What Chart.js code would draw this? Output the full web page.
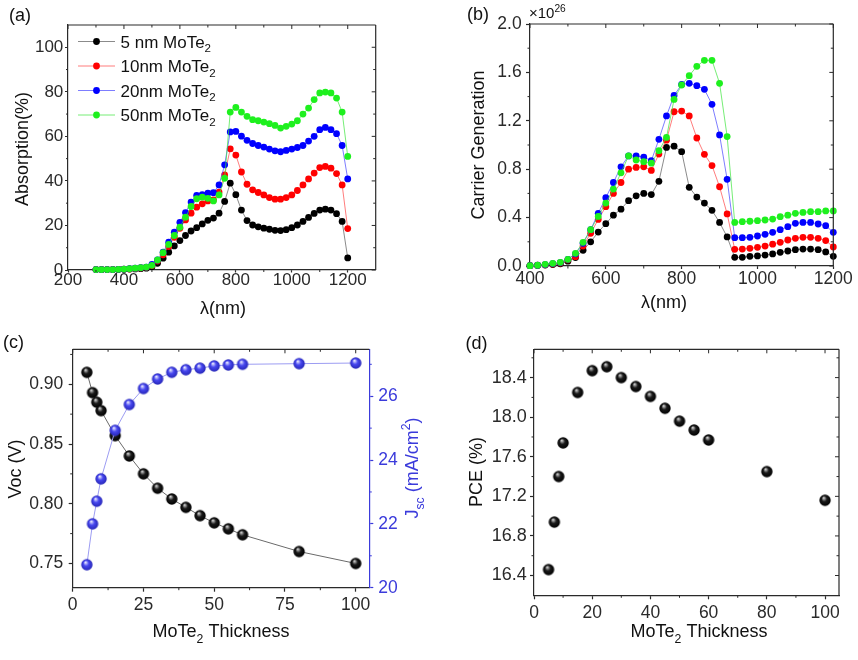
<!DOCTYPE html>
<html><head><meta charset="utf-8">
<script src="https://cdn.jsdelivr.net/npm/chart.js@4.4.0/dist/chart.umd.min.js"></script>
<style>
html,body{margin:0;padding:0;background:#fff;}
body{width:858px;height:660px;position:relative;overflow:hidden;}
.box{position:absolute;}
.box canvas{display:block;}
</style></head><body>
<div class="box" style="left:0;top:0;width:429px;height:320px"><canvas id="ca"></canvas></div>
<div class="box" style="left:429px;top:0;width:429px;height:320px"><canvas id="cb"></canvas></div>
<div class="box" style="left:0;top:320px;width:429px;height:340px"><canvas id="cc"></canvas></div>
<div class="box" style="left:429px;top:320px;width:429px;height:340px"><canvas id="cd"></canvas></div>
<script>
// ---------------- DATA ----------------
const wavelengthA = [300,320,340,360,380,400,420,440,460,480,500,520,540,560,580,600,620,640,660,680,700,720,740,760,780,800,820,840,860,880,900,920,940,960,980,1000,1020,1040,1060,1080,1100,1120,1140,1160,1180,1200];
const absorption5nm  = [0.2,0.2,0.2,0.2,0.2,0.3,0.4,0.5,0.6,0.8,1.5,3.0,5.3,8.0,10.8,13.2,15.5,17.5,19.0,20.7,22.3,23.3,25.5,30.8,39.0,33.8,26.9,22.2,20.2,19.4,18.8,18.3,17.8,17.7,18.1,19.0,20.2,21.8,23.6,25.4,26.9,27.3,26.9,25.3,21.8,5.4];
const absorption10nm = [0.2,0.2,0.2,0.2,0.3,0.4,0.5,0.7,0.9,1.2,2.0,4.0,6.8,10.5,14.7,18.7,22.5,25.5,28.2,29.7,31.0,31.5,35.0,42.7,54.4,51.6,44.0,38.5,36.0,34.8,33.7,32.5,31.8,31.8,32.5,33.7,35.7,38.2,40.9,43.5,46.0,46.5,45.7,43.3,38.2,18.6];
const absorption20nm = [0.2,0.2,0.2,0.2,0.3,0.4,0.6,0.8,1.0,1.3,2.5,4.5,8.0,12.5,17.0,21.4,25.8,30.5,33.5,33.8,34.5,34.7,38.2,47.2,62.0,62.2,60.1,58.2,56.8,55.9,55.2,54.3,53.5,53.1,53.7,54.3,55.0,55.9,57.9,60.0,63.0,64.0,63.0,61.2,55.9,40.9];
const absorption50nm = [0.2,0.2,0.2,0.2,0.3,0.4,0.6,0.8,1.0,1.3,2.1,4.5,7.8,11.5,15.5,19.2,23.7,28.5,32.0,32.7,32.2,31.0,33.7,41.2,70.9,73.0,70.9,69.0,67.5,67.0,66.4,65.7,64.9,63.7,64.5,65.5,67.0,70.0,72.7,76.5,79.5,79.9,79.5,77.2,70.9,51.0];

const wavelengthB = [400,420,440,460,480,500,520,540,560,580,600,620,640,660,680,700,720,740,760,780,800,820,840,860,880,900,920,940,960,980,1000,1020,1040,1060,1080,1100,1120,1140,1160,1180,1200];
// carrier generation in units of 1e26
const generation5nm  = [0.003,0.005,0.008,0.012,0.018,0.04,0.07,0.13,0.2,0.28,0.35,0.42,0.47,0.54,0.58,0.6,0.59,0.7,0.98,0.99,0.945,0.65,0.57,0.52,0.46,0.36,0.24,0.072,0.072,0.08,0.083,0.09,0.1,0.113,0.124,0.135,0.14,0.14,0.135,0.116,0.08];
const generation10nm = [0.003,0.006,0.01,0.016,0.025,0.05,0.077,0.165,0.27,0.385,0.49,0.6,0.69,0.8,0.815,0.82,0.79,0.925,1.04,1.275,1.28,1.24,1.058,0.923,0.83,0.655,0.43,0.138,0.14,0.146,0.154,0.165,0.18,0.196,0.215,0.229,0.237,0.237,0.229,0.21,0.157];
const generation20nm = [0.003,0.006,0.012,0.02,0.028,0.055,0.1,0.187,0.3,0.435,0.565,0.69,0.82,0.91,0.91,0.9,0.87,1.047,1.24,1.41,1.5,1.51,1.49,1.46,1.336,1.083,0.716,0.234,0.234,0.237,0.248,0.262,0.278,0.3,0.325,0.353,0.36,0.36,0.347,0.333,0.278];
const generation50nm = [0.003,0.006,0.014,0.022,0.03,0.055,0.105,0.196,0.3,0.41,0.52,0.636,0.77,0.91,0.876,0.862,0.85,0.953,1.063,1.377,1.496,1.573,1.65,1.7,1.7,1.51,1.07,0.36,0.366,0.37,0.375,0.38,0.388,0.408,0.42,0.435,0.443,0.449,0.449,0.455,0.455];

const thickness = [5,7,8.5,10,15,20,25,30,35,40,45,50,55,60,80,100];
const vocV      = [0.910,0.893,0.885,0.878,0.857,0.840,0.825,0.813,0.804,0.797,0.790,0.784,0.779,0.774,0.760,0.750];
const jscmA     = [20.72,22.0,22.71,23.41,24.93,25.74,26.24,26.54,26.75,26.83,26.88,26.95,26.98,27.0,27.02,27.04];
const pcePct    = [16.46,16.94,17.40,17.74,18.25,18.47,18.51,18.40,18.31,18.21,18.09,17.96,17.87,17.77,17.45,17.16];

const seriesNames = ['5 nm MoTe','10nm MoTe','20nm MoTe','50nm MoTe'];

// tick values
const ticksAx = [200,400,600,800,1000,1200], minorAx = [300,500,700,900,1100];
const ticksAy = [0,20,40,60,80,100], minorAy = [10,30,50,70,90];
const ticksBx = [400,600,800,1000,1200], minorBx = [500,700,900,1100];
const ticksBy = [0,0.4,0.8,1.2,1.6,2.0], minorBy = [0.2,0.6,1.0,1.4,1.8];
const ticksCx = [0,25,50,75,100], minorCx = [12.5,37.5,62.5,87.5];
const ticksCy = [0.75,0.80,0.85,0.90], minorCy = [0.775,0.825,0.875,0.925];
const ticksCy2 = [20,22,24,26], minorCy2 = [21,23,25,27];
const ticksDx = [0,20,40,60,80,100], minorDx = [10,30,50,70,90];
const ticksDy = [16.4,16.8,17.2,17.6,18.0,18.4], minorDy = [16.6,17.0,17.4,17.8,18.2,18.6];

// ---------------- HELPERS ----------------
const FONT = '"Liberation Sans", Arial, sans-serif';
const AX = '#2a2a2a';
const BLUEAX = '#3b3bdb';

function pts(xs, ys){ return xs.map((x,i)=>({x:x, y:ys[i]})); }

function richText(ctx, parts, x, y, o){
  o = o || {};
  const size = o.size || 18, color = o.color || '#111', align = o.align || 'center', rot = o.rot || 0;
  ctx.save();
  ctx.translate(x, y); ctx.rotate(rot);
  ctx.fillStyle = color; ctx.textBaseline = 'alphabetic'; ctx.textAlign = 'left';
  const m = parts.map(p => {
    const s = (p[1]==='sub'||p[1]==='sup') ? size*0.68 : size;
    ctx.font = s + 'px ' + FONT;
    return {t:p[0], k:p[1], s:s, w:ctx.measureText(p[0]).width};
  });
  const total = m.reduce((a,b)=>a+b.w,0);
  let cx = align==='center' ? -total/2 : (align==='right' ? -total : 0);
  const base = size*0.36;
  m.forEach(q => {
    ctx.font = q.s + 'px ' + FONT;
    let dy = base;
    if (q.k==='sub') dy = base + size*0.28;
    if (q.k==='sup') dy = base - size*0.45;
    ctx.fillText(q.t, cx, dy);
    cx += q.w;
  });
  ctx.restore();
}

function axis(pos, min, max, ticks, fmt, fit, o){
  o = o || {};
  const color = o.color || AX, size = o.size || 17, tl = (o.tl!==undefined) ? o.tl : 4, pad = (o.pad!==undefined) ? o.pad : 2;
  return {
    type:'linear', position:pos, min:min, max:max,
    border:{display:true, color:color, width:1.2},
    grid:{display:true, drawOnChartArea:false, drawTicks:true, tickLength:tl, tickColor:color, tickWidth:1.2, color:color},
    ticks:{font:{family:FONT, size:size}, color:color, padding:pad, autoSkip:false, maxRotation:0, minRotation:0, callback:(v)=>fmt(v)},
    title:{display:false},
    afterBuildTicks:(s)=>{ s.ticks = ticks.map(v=>({value:v})); },
    afterFit:(s)=>{ if(pos==='left'||pos==='right') s.width = fit; else s.height = fit; }
  };
}

// frame + minor ticks + inward top/right ticks
function framePlugin(cfg){
  return {
    id:'frame'+cfg.name,
    afterDatasetsDraw(chart){
      const ctx = chart.ctx, a = chart.chartArea;
      const xs = chart.scales.x, ys = chart.scales.y;
      const mx = cfg.minorLenX || 2.5, my = cfg.minorLenY || 2.5;
      ctx.save();
      ctx.strokeStyle = AX; ctx.lineWidth = 1.2;
      ctx.beginPath();
      ctx.moveTo(a.left, a.top); ctx.lineTo(a.right, a.top);
      if (!cfg.rightAxis){ ctx.moveTo(a.right, a.top); ctx.lineTo(a.right, a.bottom); }
      ctx.stroke();
      ctx.lineWidth = 1;
      ctx.beginPath();
      cfg.minorX.forEach(v=>{ const px = xs.getPixelForValue(v); ctx.moveTo(px, a.bottom); ctx.lineTo(px, a.bottom+mx); });
      cfg.minorY.forEach(v=>{ const py = ys.getPixelForValue(v); ctx.moveTo(a.left, py); ctx.lineTo(a.left-my, py); });
      cfg.majorX.forEach(v=>{ const px = xs.getPixelForValue(v); ctx.moveTo(px, a.top); ctx.lineTo(px, a.top+4); });
      cfg.minorX.forEach(v=>{ const px = xs.getPixelForValue(v); ctx.moveTo(px, a.top); ctx.lineTo(px, a.top+2.5); });
      if (!cfg.rightAxis){
        cfg.majorY.forEach(v=>{ const py = ys.getPixelForValue(v); ctx.moveTo(a.right, py); ctx.lineTo(a.right-4, py); });
        cfg.minorY.forEach(v=>{ const py = ys.getPixelForValue(v); ctx.moveTo(a.right, py); ctx.lineTo(a.right-2.5, py); });
      }
      ctx.stroke();
      if (cfg.rightAxis){
        const y2 = chart.scales.y1;
        ctx.strokeStyle = BLUEAX; ctx.beginPath();
        cfg.minorY2.forEach(v=>{ const py = y2.getPixelForValue(v); ctx.moveTo(a.right, py); ctx.lineTo(a.right+2.5, py); });
        ctx.stroke();
      }
      ctx.restore();
    },
    afterDraw(chart){
      const ctx = chart.ctx;
      cfg.texts.forEach(t => richText(ctx, t.parts, t.x, t.y, t));
      if (cfg.legend) cfg.legend(chart);
    }
  };
}

function sphere(r, light, base, dark){
  const d = Math.ceil(2*r+2);
  const c = document.createElement('canvas');
  c.width = d; c.height = d;
  const g = c.getContext('2d');
  const cx = d/2, cy = d/2;
  const grad = g.createRadialGradient(cx - r*0.25, cy - r*0.45, r*0.05, cx, cy, r);
  grad.addColorStop(0, light); grad.addColorStop(0.45, base); grad.addColorStop(1, dark);
  g.fillStyle = grad; g.beginPath(); g.arc(cx, cy, r, 0, Math.PI*2); g.fill();
  return c;
}

function lineSet(label, data, color, lineColor, order){
  return {label:label, data:data, showLine:true, borderColor:lineColor, borderWidth:1, backgroundColor:color,
    pointBackgroundColor:color, pointBorderWidth:0, pointRadius:3.4, pointHoverRadius:3.4, order:order, clip:false, tension:0};
}

const COLS = ['#000000','#ff0000','#0000ff','#1ef01e'];
const LCOLS = ['rgba(90,90,90,0.7)','rgba(255,70,70,0.7)','rgba(70,70,255,0.7)','rgba(60,230,60,0.7)'];

Chart.defaults.font.family = FONT;
Chart.defaults.animation = false;
Chart.defaults.responsive = true;
Chart.defaults.maintainAspectRatio = false;
Chart.defaults.plugins.legend.display = false;
Chart.defaults.plugins.tooltip.enabled = false;

// ---------------- PANEL A ----------------
new Chart(document.getElementById('ca'), {
  type:'scatter',
  data:{datasets:[
    lineSet(seriesNames[0], pts(wavelengthA, absorption5nm), COLS[0], LCOLS[0], 3),
    lineSet(seriesNames[1], pts(wavelengthA, absorption10nm), COLS[1], LCOLS[1], 2),
    lineSet(seriesNames[2], pts(wavelengthA, absorption20nm), COLS[2], LCOLS[2], 1),
    lineSet(seriesNames[3], pts(wavelengthA, absorption50nm), COLS[3], LCOLS[3], 0)
  ]},
  options:{
    layout:{padding:{left:0, top:25, right:53.3, bottom:0}},
    scales:{
      x: axis('bottom', 200, 1300, ticksAx, v=>String(v), 50, {tl:2.5, pad:-2}),
      y: axis('left', 0, 110, ticksAy, v=>String(v), 68, {tl:3, pad:1.7})
    }
  },
  plugins:[framePlugin({name:'a', minorLenX:2, minorLenY:2, majorX:ticksAx, minorX:minorAx, majorY:ticksAy, minorY:minorAy,
    texts:[
      {parts:[['(a)']], x:9, y:15, align:'left', size:18},
      {parts:[['λ(nm)']], x:223, y:308, size:18},
      {parts:[['Absorption(%)']], x:22, y:149, size:18, rot:-Math.PI/2}
    ],
    legend:(chart)=>{
      const ctx = chart.ctx;
      chart.data.datasets.forEach((ds,i)=>{
        const y = 41.5 + i*24.5;
        ctx.save();
        ctx.strokeStyle = ds.borderColor; ctx.lineWidth = 1;
        ctx.beginPath(); ctx.moveTo(78, y); ctx.lineTo(115, y); ctx.stroke();
        ctx.fillStyle = ds.pointBackgroundColor;
        ctx.beginPath(); ctx.arc(96.5, y, 3.4, 0, Math.PI*2); ctx.fill();
        ctx.restore();
        richText(ctx, [[ds.label],['2','sub']], 120.5, y, {align:'left', size:17, color:'#111'});
      });
    }
  })]
});

// ---------------- PANEL B ----------------
new Chart(document.getElementById('cb'), {
  type:'scatter',
  data:{datasets:[
    lineSet(seriesNames[0], pts(wavelengthB, generation5nm), COLS[0], LCOLS[0], 3),
    lineSet(seriesNames[1], pts(wavelengthB, generation10nm), COLS[1], LCOLS[1], 2),
    lineSet(seriesNames[2], pts(wavelengthB, generation20nm), COLS[2], LCOLS[2], 1),
    lineSet(seriesNames[3], pts(wavelengthB, generation50nm), COLS[3], LCOLS[3], 0)
  ]},
  options:{
    layout:{padding:{left:0, top:24, right:24.7, bottom:0}},
    scales:{
      x: axis('bottom', 400, 1200, ticksBx, v=>String(v), 54, {tl:3, pad:-0.5, size:17.5}),
      y: axis('left', 0, 2.0, ticksBy, v=>v.toFixed(1), 101, {tl:4, pad:4.3, size:17.5})
    }
  },
  plugins:[framePlugin({name:'b', majorX:ticksBx, minorX:minorBx, majorY:ticksBy, minorY:minorBy,
    texts:[
      {parts:[['(b)']], x:38, y:14, align:'left', size:18},
      {parts:[['×10'],['26','sup']], x:100, y:13, align:'left', size:15},
      {parts:[['λ(nm)']], x:235, y:302, size:18},
      {parts:[['Carrier Generation']], x:49, y:145, size:18, rot:-Math.PI/2}
    ]
  })]
});

// ---------------- PANEL C ----------------
const blackBall = sphere(5.7, '#d8d8d8', '#1a1a1a', '#000000');
const blueBall = sphere(5.7, '#f0f0ff', '#4848f0', '#2626b8');
new Chart(document.getElementById('cc'), {
  type:'scatter',
  data:{datasets:[
    {label:'Voc', data:pts(thickness, vocV), yAxisID:'y', showLine:true, borderColor:'#6a6a6a', borderWidth:1,
     pointStyle:blackBall, pointRadius:5.7, order:1, clip:false},
    {label:'Jsc', data:pts(thickness, jscmA), yAxisID:'y1', showLine:true, borderColor:'#9c9cf2', borderWidth:1,
     pointStyle:blueBall, pointRadius:5.7, order:0, clip:false}
  ]},
  options:{
    layout:{padding:{left:0, top:29.3, right:0, bottom:0}},
    scales:{
      x: axis('bottom', 0, 104.8, ticksCx, v=>String(v), 72.3, {tl:4, pad:2.8, size:17.5}),
      y: axis('left', 0.7297, 0.9293, ticksCy, v=>v.toFixed(2), 72.7, {tl:4, pad:5.4, size:17.5}),
      y1: axis('right', 20, 27.47, ticksCy2, v=>String(v), 59.7, {color:BLUEAX, tl:4, pad:5, size:17.5})
    }
  },
  plugins:[framePlugin({name:'c', rightAxis:true, majorX:ticksCx, minorX:minorCx, majorY:ticksCy, minorY:minorCy, minorY2:minorCy2,
    texts:[
      {parts:[['(c)']], x:3, y:22, align:'left', size:18},
      {parts:[['MoTe'],['2','sub'],[' Thickness']], x:221, y:311, size:18},
      {parts:[['Voc (V)']], x:15, y:149, size:18, rot:-Math.PI/2},
      {parts:[['J'],['sc','sub'],[' (mA/cm'],['2','sup'],[')']], x:412, y:148, size:18, color:BLUEAX, rot:-Math.PI/2}
    ]
  })]
});

// ---------------- PANEL D ----------------
new Chart(document.getElementById('cd'), {
  type:'scatter',
  data:{datasets:[
    {label:'PCE', data:pts(thickness, pcePct), showLine:false, pointStyle:blackBall, pointRadius:5.7, clip:false}
  ]},
  options:{
    layout:{padding:{left:0, top:29.3, right:19, bottom:0}},
    scales:{
      x: axis('bottom', 0, 104.8, ticksDx, v=>String(v), 64.7, {tl:4, pad:3, size:17.5}),
      y: axis('left', 16.2, 18.686, ticksDy, v=>v.toFixed(1), 105, {tl:4, pad:3.3, size:18})
    }
  },
  plugins:[framePlugin({name:'d', majorX:ticksDx, minorX:minorDx, majorY:ticksDy, minorY:minorDy,
    texts:[
      {parts:[['(d)']], x:36.5, y:22.5, align:'left', size:18},
      {parts:[['MoTe'],['2','sub'],[' Thickness']], x:270, y:311, size:18},
      {parts:[['PCE (%)']], x:47, y:152, size:18, rot:-Math.PI/2}
    ]
  })]
});
</script>
</body></html>
